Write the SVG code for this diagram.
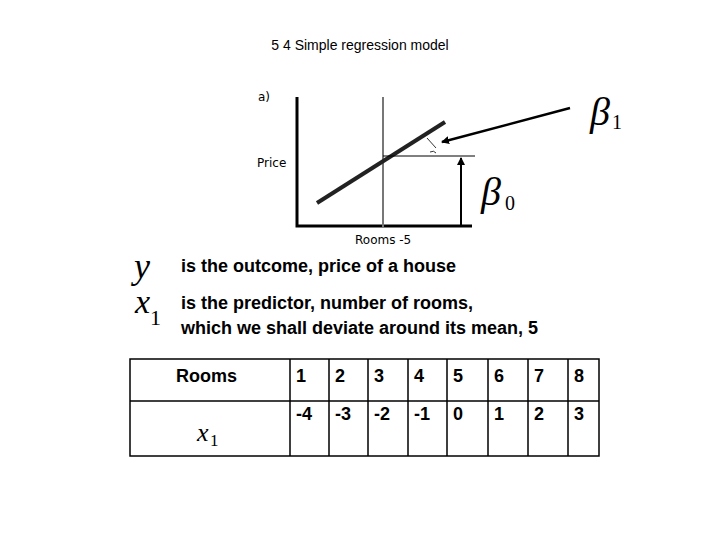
<svg xmlns="http://www.w3.org/2000/svg" width="720" height="540" viewBox="0 0 720 540">
<style>
.t{font-family:"Liberation Sans",Arial,sans-serif;font-size:18px;font-weight:bold;fill:#000}
.c{font-family:"DejaVu Sans",sans-serif;font-size:12px;fill:#000}
.m{font-family:"Liberation Serif","Times New Roman",serif;font-style:italic;fill:#000}
.s{font-family:"Liberation Serif","Times New Roman",serif;fill:#000}
.g{stroke:#000;fill:none}
</style>
<defs><marker id="ah" markerWidth="8" markerHeight="8" refX="7" refY="4" orient="auto" markerUnits="userSpaceOnUse"><path d="M0,0 L8,4 L0,8 z" fill="#000"/></marker></defs>
<rect width="720" height="540" fill="#fff"/>
<text x="360" y="50" text-anchor="middle" font-family="Liberation Sans,Arial,sans-serif" font-size="14">5 4 Simple regression model</text>
<g id="chart">
<text class="c" x="258" y="101" font-size="13">a)</text>
<text class="c" x="257" y="167">Price</text>
<text class="c" x="355" y="244" font-size="11">Rooms -5</text>
<path class="g" stroke-width="3" d="M297,97 V226 H472"/>
<line x1="383" y1="97" x2="383" y2="227" stroke="#777" stroke-width="2"/>
<line x1="317" y1="203" x2="445" y2="122" stroke="#222" stroke-width="4"/>
<line x1="383" y1="156" x2="475" y2="156" stroke="#000" stroke-width="1"/>
<path class="g" stroke-width="0.8" d="M427,138 L436,148 M430,152 q4,-2 6,1"/>
</g>
<g id="connectors">
<line x1="461" y1="225" x2="461" y2="158" stroke="#000" stroke-width="2" marker-end="url(#ah)"/>
<line x1="570" y1="108" x2="442" y2="142" stroke="#000" stroke-width="2.5" marker-end="url(#ah)"/>
</g>
<g id="b1"><text class="m" x="590" y="125" font-size="40">β</text><text class="s" x="612" y="129" font-size="20">1</text></g>
<g id="b0"><text class="m" x="481" y="205" font-size="40">β</text><text class="s" x="505" y="210" font-size="20">0</text></g>
<g id="y"><text class="m" x="134" y="278" font-size="36">y</text><text class="t" x="181" y="272">is the outcome, price of a house</text></g>
<g id="x1"><text class="m" x="135" y="313" font-size="34">x</text><text class="s" x="150" y="325" font-size="22">1</text>
<text class="t" x="181" y="309">is the predictor, number of rooms,</text>
<text class="t" x="181" y="334">which we shall deviate around its mean, 5</text></g>
<g id="table" stroke="#000" stroke-width="1.5" fill="none">
<rect x="130" y="359" width="469" height="97"/>
<line x1="130" y1="401" x2="599" y2="401"/>
<path d="M290,359V456M329,359V456M368,359V456M408,359V456M447,359V456M488,359V456M528,359V456M568,359V456"/>
</g>
<g id="cells">
<text class="t" x="176" y="382">Rooms</text>
<text class="m" x="197" y="441" font-size="26">x</text><text class="s" x="210" y="446" font-size="17">1</text>
<g class="t">
<text x="296" y="382">1</text><text x="335" y="382">2</text><text x="374" y="382">3</text><text x="414" y="382">4</text><text x="453" y="382">5</text><text x="494" y="382">6</text><text x="534" y="382">7</text><text x="574" y="382">8</text>
<text x="296" y="420">-4</text><text x="335" y="420">-3</text><text x="374" y="420">-2</text><text x="414" y="420">-1</text><text x="453" y="420">0</text><text x="494" y="420">1</text><text x="534" y="420">2</text><text x="574" y="420">3</text>
</g></g>
</svg>
